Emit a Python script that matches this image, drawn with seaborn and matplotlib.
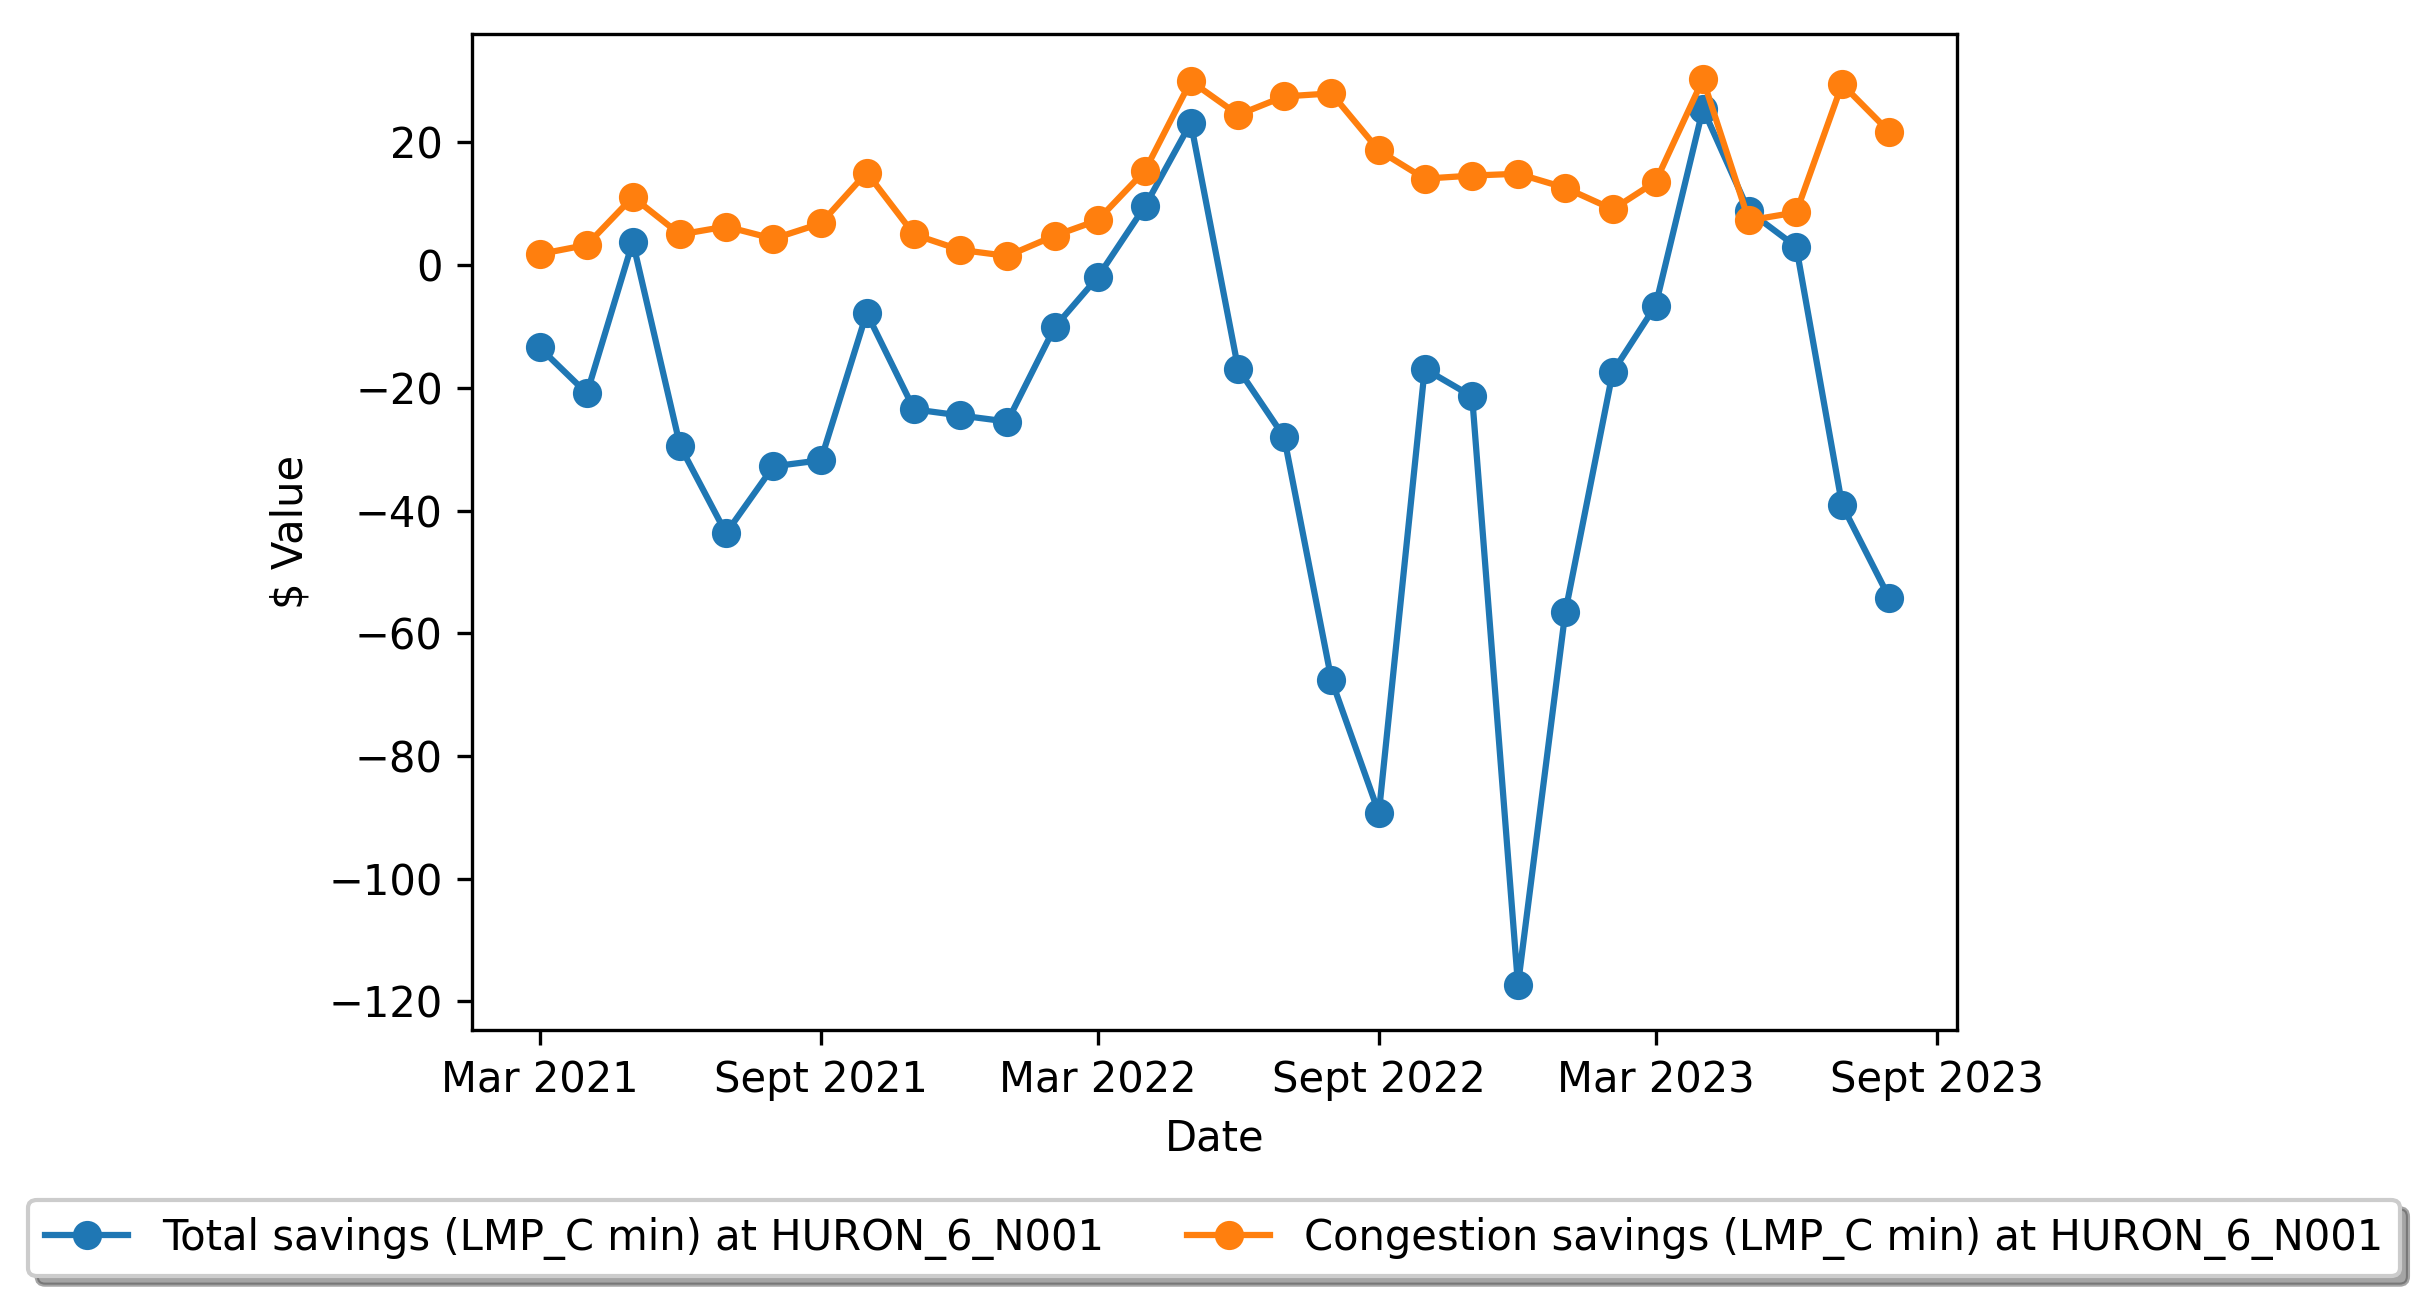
import matplotlib
matplotlib.use("Agg")
from matplotlib import pyplot as plt
import seaborn as sns
import pandas as pd

# %%
months = [
    "2021-03", "2021-04", "2021-05", "2021-06", "2021-07", "2021-08",
    "2021-09", "2021-10", "2021-11", "2021-12", "2022-01", "2022-02",
    "2022-03", "2022-04", "2022-05", "2022-06", "2022-07", "2022-08",
    "2022-09", "2022-10", "2022-11", "2022-12", "2023-01", "2023-02",
    "2023-03", "2023-04", "2023-05", "2023-06", "2023-07", "2023-08",
]

total_savings = [
    -13.4, -20.9, 3.8, -29.5, -43.7, -32.8,
    -31.8, -7.8, -23.5, -24.5, -25.5, -10.1,
    -2.0, 9.6, 23.2, -16.9, -28.0, -67.6,
    -89.3, -16.9, -21.4, -117.3, -56.5, -17.4,
    -6.6, 25.5, 8.8, 3.0, -39.1, -54.3,
]

congestion_savings = [
    1.8, 3.3, 11.1, 5.0, 6.3, 4.3,
    6.8, 15.1, 5.0, 2.5, 1.5, 4.8,
    7.3, 15.4, 30.0, 24.5, 27.5, 28.0,
    18.7, 14.1, 14.6, 14.9, 12.6, 9.1,
    13.6, 30.3, 7.3, 8.6, 29.5, 21.7,
]

tick_dates = ["2021-03", "2021-09", "2022-03", "2022-09", "2023-03", "2023-09"]
tick_labels = ["Mar 2021", "Sept 2021", "Mar 2022", "Sept 2022", "Mar 2023", "Sept 2023"]

node = "HURON_6_N001"

df = pd.DataFrame({
    "date": pd.to_datetime(months),
    "total": total_savings,
    "congestion": congestion_savings,
})

# %%
fig = plt.figure(figsize=(2428 / 300, 1314 / 300), dpi=300)
ax = fig.add_axes([472 / 2428, 1 - 1030 / 1314, 1485 / 2428, 996 / 1314])

blue, orange = "#1f77b4", "#ff7f0e"
sns.lineplot(data=df, x="date", y="total", marker="o", color=blue,
             markeredgecolor=blue, markeredgewidth=1,
             label=f"Total savings (LMP_C min) at {node}", ax=ax)
sns.lineplot(data=df, x="date", y="congestion", marker="o", color=orange,
             markeredgecolor=orange, markeredgewidth=1,
             label=f"Congestion savings (LMP_C min) at {node}", ax=ax)

ax.set_xticks(pd.to_datetime(tick_dates))
ax.set_xticklabels(tick_labels)
ax.set_xlabel("Date")
ax.set_ylabel(r"\$ Value")

ax.legend(loc="upper center", bbox_to_anchor=(0.5, 1 - 1200 / 1314),
          bbox_transform=fig.transFigure, borderaxespad=0,
          ncol=2, shadow=True)

fig.savefig("out.png", dpi=300)
